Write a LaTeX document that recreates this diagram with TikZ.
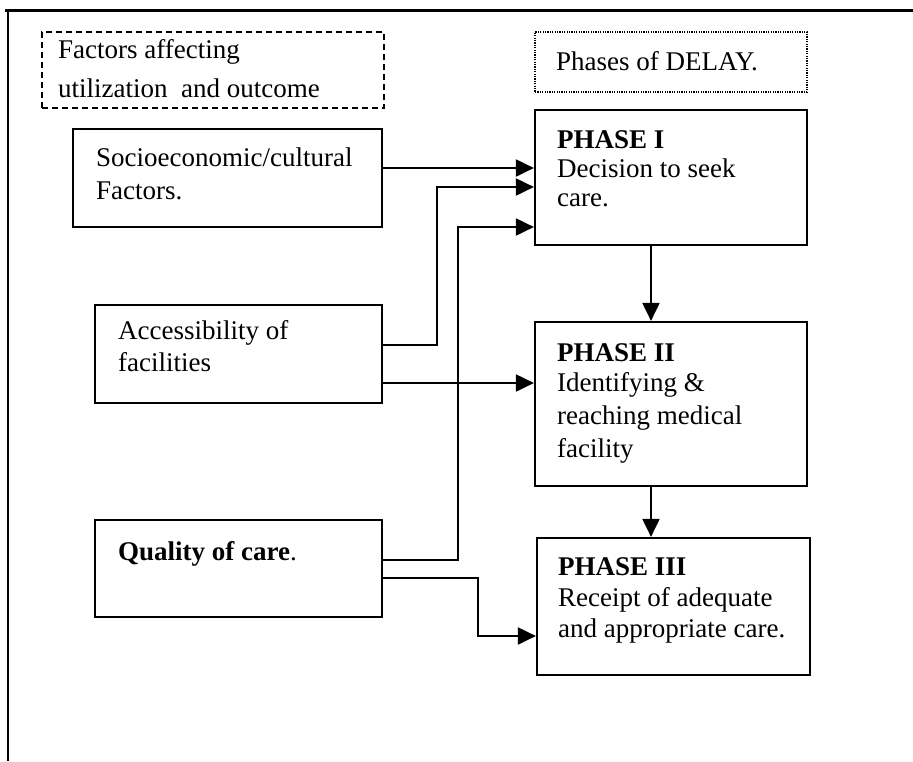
\documentclass[tikz,border=0pt]{standalone}
\usepackage{fontspec}
\setmainfont{Liberation Serif}
\usetikzlibrary{arrows.meta}
\begin{document}
\begin{tikzpicture}[x=1pt,y=-1pt,
  box/.style={draw, line width=2.2pt, rectangle, inner sep=0pt},
  txt/.style={anchor=base west, inner sep=0pt, font=\fontsize{27}{33}\selectfont},
  arr/.style={line width=2pt, -{Triangle[length=18pt,width=17pt]}}]
\useasboundingbox (0,0) rectangle (913,761);
% page frame (top and left rules)
\draw[line width=3pt] (5,10) -- (913,10);
\draw[line width=2.5pt] (8,9) -- (8,761);

% heading boxes
\node[draw, line width=1.8pt, dash pattern=on 6pt off 4pt, minimum width=342pt, minimum height=76pt, inner sep=0pt] (hfac) at (213,70) {};
\node[txt] (hfac1) at (58,58) {Factors affecting};
\node[txt] (hfac2) at (58,97) {utilization\ \ and outcome};
\node[draw, line width=1.5pt, dash pattern=on 1.2pt off 1.2pt, minimum width=272pt, minimum height=60pt, inner sep=0pt] (hph) at (671,62) {};
\node[txt] (hph1) at (556,70) {Phases of DELAY.};

% factor boxes
\node[box, minimum width=309pt, minimum height=98pt] (socio) at (227.5,178) {};
\node[txt] (socio1) at (96,166) {Socioeconomic/cultural};
\node[txt] (socio2) at (96,199) {Factors.};
\node[box, minimum width=287pt, minimum height=98pt] (acc) at (238.5,354) {};
\node[txt] (acc1) at (118,339) {Accessibility of};
\node[txt] (acc2) at (118,371) {facilities};
\node[box, minimum width=287pt, minimum height=97pt] (qual) at (238.5,568.5) {};
\node[txt] (qual1) at (118,560) {\textbf{Quality of care}.};

% phase boxes
\node[box, minimum width=272pt, minimum height=135pt] (p1) at (671,177.5) {};
\node[txt] (p1a) at (557,148) {\textbf{PHASE I}};
\node[txt] (p1b) at (557,177) {Decision to seek};
\node[txt] (p1c) at (557,206) {care.};
\node[box, minimum width=272pt, minimum height=164pt] (p2) at (671,404) {};
\node[txt] (p2a) at (557,361) {\textbf{PHASE II}};
\node[txt] (p2b) at (557,391) {Identifying \&};
\node[txt] (p2c) at (557,424) {reaching medical};
\node[txt] (p2d) at (557,457) {facility};
\node[box, minimum width=273pt, minimum height=137pt] (p3) at (673.5,606.5) {};
\node[txt] (p3a) at (558,575) {\textbf{PHASE III}};
\node[txt] (p3b) at (558,606) {Receipt of adequate};
\node[txt] (p3c) at (558,637) {and appropriate care.};

% connectors
\draw[arr] (socio.east |- 0,168) -- (p1.west |- 0,168);
\draw[arr] (acc.east |- 0,345) -| (437,187) -- (p1.west |- 0,187);
\draw[arr] (qual.east |- 0,560) -| (458,227) -- (p1.west |- 0,227);
\draw[arr] (acc.east |- 0,383) -- (p2.west |- 0,383);
\draw[arr] (qual.east |- 0,578) -| (478,636) -- (p3.west |- 0,636);
\draw[arr] (p1.south -| 651,0) -- (p2.north -| 651,0);
\draw[arr] (p2.south -| 651,0) -- (p3.north -| 651,0);
\end{tikzpicture}
\end{document}
